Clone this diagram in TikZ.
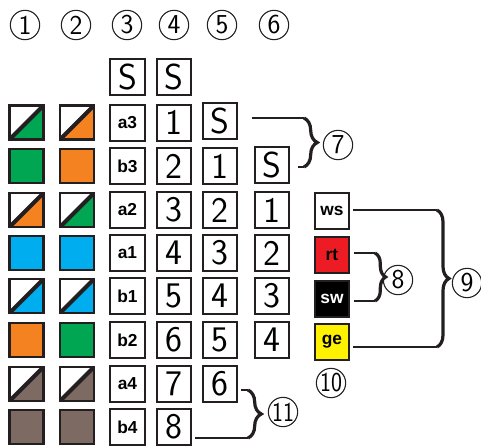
\documentclass[tikz,border=0pt]{standalone}
\usepackage{fontspec}
\setmainfont{Liberation Sans}
\usetikzlibrary{decorations.pathreplacing}
\definecolor{ink}{HTML}{231F20}
\definecolor{cgreen}{HTML}{00A651}
\definecolor{corange}{HTML}{F58220}
\definecolor{cblue}{HTML}{00AEEF}
\definecolor{cbrown}{HTML}{7D6A62}
\definecolor{cred}{HTML}{ED1C24}
\definecolor{cyellow}{HTML}{FFF200}
\begin{document}
\begin{tikzpicture}[x=0.75pt,y=-0.75pt,
 numbox/.style={draw=ink, line width=1.5pt, minimum width=26pt, minimum height=27pt, inner sep=0pt, font=\sffamily\fontsize{27}{27}\selectfont},
 codebox/.style={draw=ink, line width=1.5pt, minimum width=26pt, minimum height=27pt, inner sep=0pt, font=\fontsize{13}{13}\selectfont\bfseries},
 fullsq/.style={draw=ink, line width=2.2pt, minimum size=25.5pt, inner sep=0pt, fill=#1},
 halfsq/.style={draw=ink, line width=2.2pt, minimum size=25.5pt, inner sep=0pt,
   path picture={
     \fill[#1] (path picture bounding box.south west) -- (path picture bounding box.south east) -- (path picture bounding box.north east) -- cycle;
     \draw[ink, line width=3pt] (path picture bounding box.south west) -- (path picture bounding box.north east);}},
 circ/.style={circle, draw=ink, line width=0.8pt, minimum size=22pt, inner sep=0pt, font=\sffamily\fontsize{20.5}{20.5}\selectfont},
 brc/.style={draw=ink, line width=2.4pt, decorate, decoration={brace, amplitude=#1}},
 lead/.style={draw=ink, line width=1.5pt}
]
\useasboundingbox (0,0) rectangle (481,446);
% header circles
\node[circ] (h1) at (25,25) {1};
\node[circ] (h2) at (76,25) {2};
\node[circ] (h3) at (127,25) {3};
\node[circ] (h4) at (174,25) {4};
\node[circ] (h5) at (222,25) {5};
\node[circ] (h6) at (274,25) {6};
% column 1
\node[halfsq=cgreen] (a1r1) at (26.5,122.5) {};
\node[fullsq=cgreen] (a1r2) at (26.5,166) {};
\node[halfsq=corange] (a1r3) at (26.5,210) {};
\node[fullsq=cblue] (a1r4) at (26.5,253) {};
\node[halfsq=cblue] (a1r5) at (26.5,296) {};
\node[fullsq=corange] (a1r6) at (26.5,340) {};
\node[halfsq=cbrown] (a1r7) at (26.5,384) {};
\node[fullsq=cbrown] (a1r8) at (26.5,427) {};
% column 2
\node[halfsq=corange] (a2r1) at (77,122.5) {};
\node[fullsq=corange] (a2r2) at (77,166) {};
\node[halfsq=cgreen] (a2r3) at (77,210) {};
\node[fullsq=cblue] (a2r4) at (77,253) {};
\node[halfsq=cblue] (a2r5) at (77,296) {};
\node[fullsq=cgreen] (a2r6) at (77,340) {};
\node[halfsq=cbrown] (a2r7) at (77,384) {};
\node[fullsq=cbrown] (a2r8) at (77,427) {};
% column 3
\node[numbox] (c3s) at (127.5,77) {S};
\node[codebox] (c3r1) at (127.5,122.5) {a3};
\node[codebox] (c3r2) at (127.5,166) {b3};
\node[codebox] (c3r3) at (127.5,210) {a2};
\node[codebox] (c3r4) at (127.5,253) {a1};
\node[codebox] (c3r5) at (127.5,296) {b1};
\node[codebox] (c3r6) at (127.5,340) {b2};
\node[codebox] (c3r7) at (127.5,384) {a4};
\node[codebox] (c3r8) at (127.5,427) {b4};
% column 4
\node[numbox] (c4s) at (174,77) {S};
\node[numbox] (c4r1) at (174,122.5) {1};
\node[numbox] (c4r2) at (174,166) {2};
\node[numbox] (c4r3) at (174,210) {3};
\node[numbox] (c4r4) at (174,253) {4};
\node[numbox] (c4r5) at (174,296) {5};
\node[numbox] (c4r6) at (174,340) {6};
\node[numbox] (c4r7) at (174,384) {7};
\node[numbox] (c4r8) at (174,427) {8};
% column 5
\node[numbox] (c5s) at (220,121) {S};
\node[numbox] (c5r2) at (220,166) {1};
\node[numbox] (c5r3) at (220,210) {2};
\node[numbox] (c5r4) at (220,253) {3};
\node[numbox] (c5r5) at (220,296) {4};
\node[numbox] (c5r6) at (220,340) {5};
\node[numbox] (c5r7) at (220,384) {6};
% column 6
\node[numbox] (c6s) at (272,165) {S};
\node[numbox] (c6r3) at (272,210) {1};
\node[numbox] (c6r4) at (272,253) {2};
\node[numbox] (c6r5) at (272,296) {3};
\node[numbox] (c6r6) at (272,340) {4};
% colour codes
\node[codebox, fill=white] (ws) at (332,211) {ws};
\node[codebox, fill=cred] (rt) at (332,255) {rt};
\node[codebox, fill=black, text=white] (sw) at (332,298.5) {sw};
\node[codebox, fill=cyellow] (ge) at (332,341.5) {ge};
\node[circ] (n10) at (331,383) {\scalebox{0.85}[1]{10}};
% brace 7
\coordinate (b7t) at (304,118);
\coordinate (b7b) at (304,167);
\draw[lead] ([xshift=10pt]c5s.east |- b7t) -- (b7t);
\draw[lead] ([xshift=6pt]c6s.east |- b7b) -- (b7b);
\draw[brc=10pt] (b7t) -- (b7b);
\node[circ] (n7) at (338,145) {7};
% brace 8
\coordinate (b8t) at (375,253);
\coordinate (b8b) at (375,301);
\draw[lead] ([xshift=3pt]rt.east |- b8t) -- (b8t);
\draw[lead] ([xshift=3pt]sw.east |- b8b) -- (b8b);
\draw[brc=8pt] (b8t) -- (b8b);
\node[circ] (n8) at (398,280) {8};
% brace 9
\coordinate (b9t) at (437,210);
\coordinate (b9b) at (437,347);
\draw[lead] ([xshift=2pt]ws.east |- b9t) -- (b9t);
\draw[lead] ([xshift=2pt]ge.east |- b9b) -- (b9b);
\draw[brc=9pt] (b9t) -- (b9b);
\node[circ] (n9) at (467,283) {9};
% brace 11
\coordinate (b11t) at (248,390);
\coordinate (b11b) at (248,438);
\draw[lead] ([xshift=2pt]c5r7.east |- b11t) -- (b11t);
\draw[lead] ([xshift=2pt]c4r8.east |- b11b) -- (b11b);
\draw[brc=10pt] (b11t) -- (b11b);
\node[circ] (n11) at (283,412) {\scalebox{0.85}[1]{11}};
\end{tikzpicture}
\end{document}
